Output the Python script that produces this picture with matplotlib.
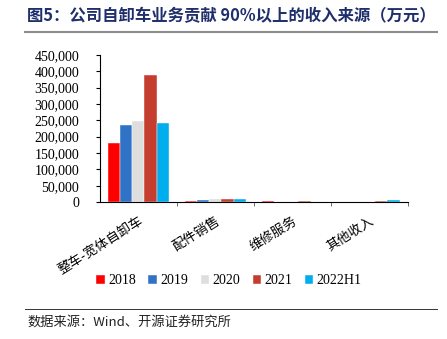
import matplotlib
matplotlib.use("Agg")
import matplotlib.pyplot as plt
from matplotlib.ticker import FuncFormatter
import numpy as np

categories = ["整车-宽体自卸车", "配件销售", "维修服务", "其他收入"]
series_names = ["2018", "2019", "2020", "2021", "2022H1"]
v2018 = [180000, 4000, 3000, 0]
v2019 = [235000, 5000, 500, 0]
v2020 = [249000, 8000, 500, 0]
v2021 = [389000, 10000, 3000, 4000]
v2022h1 = [241000, 9000, 1000, 6000]
values = [v2018, v2019, v2020, v2021, v2022h1]
colors = ["#FF0000", "#2F72C6", "#DEDEDE", "#C43D2F", "#00AEEF"]

cjk = ["Noto Sans CJK SC", "DejaVu Sans"]
serif = ["Liberation Serif", "DejaVu Serif"]

fig = plt.figure(figsize=(4.47, 3.39), dpi=100)
ax = fig.add_axes([0.2237, 0.404, 0.689, 0.434])

x = np.arange(len(categories))
bw = 0.156
n = len(series_names)
for i, (name, vals, c) in enumerate(zip(series_names, values, colors)):
    ax.bar(x + (i - (n - 1) / 2) * bw, vals, width=bw, color=c, label=name,
           edgecolor="white", linewidth=0.3)

ax.set_xlim(-0.5, 3.5)
ax.set_ylim(0, 450000)
ax.set_yticks(np.arange(0, 450001, 50000))
ax.yaxis.set_major_formatter(FuncFormatter(lambda v, p: f"{int(v):,}"))
for lab in ax.get_yticklabels():
    lab.set_family(serif)
    lab.set_fontsize(10)
ax.tick_params(axis="y", length=3, width=0.8, pad=12)

ax.set_xticks(x)
ax.set_xticklabels(categories, rotation=32, ha="right", rotation_mode="anchor",
                   family=cjk, fontsize=9.5)
ax.tick_params(axis="x", which="major", length=0, pad=9)
ax.set_xticks([0.5, 1.5, 2.5, 3.5], minor=True)
ax.tick_params(axis="x", which="minor", length=3, width=0.6, color="#555555")

for s in ["top", "right"]:
    ax.spines[s].set_visible(False)
ax.spines["left"].set_linewidth(0.8)
ax.spines["bottom"].set_linewidth(0.8)

leg = ax.legend(loc="center", bbox_to_anchor=(229 / 447, 1 - 281 / 339), bbox_transform=fig.transFigure,
                ncol=5, frameon=False, prop={"family": serif, "size": 10},
                handlelength=0.6, handleheight=0.6, handletextpad=0.25, columnspacing=0.9)

fig.text(27 / 447, 1 - 16 / 339, "图5：公司自卸车业务贡献 90%以上的收入来源（万元）",
         family=cjk, fontsize=11.8, fontweight="bold", color="#1F2F6B", va="center", ha="left")
fig.add_artist(plt.Line2D([25 / 447, 437 / 447], [1 - 32 / 339, 1 - 32 / 339],
                          transform=fig.transFigure, color="#8C8C8C", linewidth=1.5))
fig.add_artist(plt.Line2D([25 / 447, 437 / 447], [1 - 309 / 339, 1 - 309 / 339],
                          transform=fig.transFigure, color="#333333", linewidth=0.7))
fig.text(27 / 447, 1 - 322 / 339, "数据来源：Wind、开源证券研究所",
         family=cjk, fontsize=9.5, color="#222222", va="center", ha="left")

fig.savefig("out.png", dpi=100)
